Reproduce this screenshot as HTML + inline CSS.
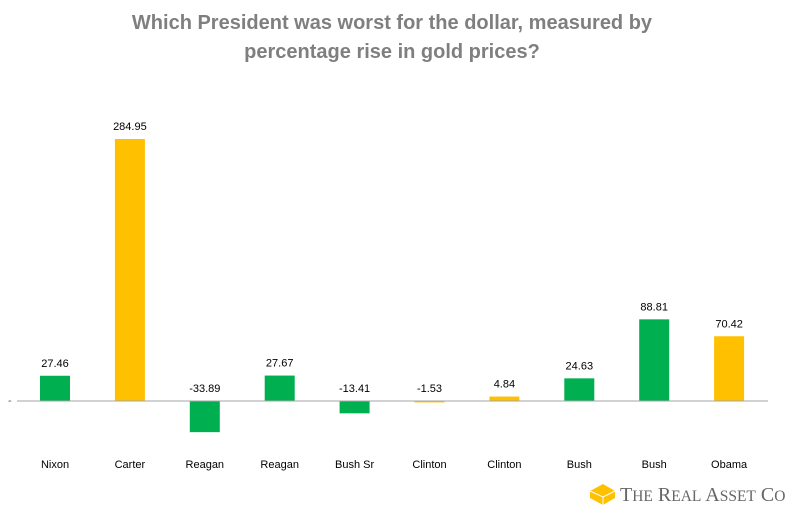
<!DOCTYPE html>
<html><head><meta charset="utf-8"><style>
body{margin:0;background:#fff;width:800px;height:522px;overflow:hidden;font-family:"Liberation Sans",sans-serif}
</style></head><body>
<svg width="800" height="522">
<text x="392" y="29" text-anchor="middle" font-size="20" font-weight="bold" fill="#7f7f7f">Which President was worst for the dollar, measured by</text>
<text x="392" y="58" text-anchor="middle" font-size="20" font-weight="bold" fill="#7f7f7f">percentage rise in gold prices?</text>
<text x="8" y="404" font-size="11" fill="#595959">-</text>
<g id="bars"></g>
<line x1="17" y1="401" x2="768" y2="401" stroke="#a6a6a6" stroke-width="1"/>
<g>
<polygon points="590,491 603,484 615,491 615,498 603,505 590,498" fill="#ffc000"/>
<polyline points="590,491 603,497 615,491" fill="none" stroke="#fff" stroke-width="1"/>
<line x1="603" y1="497" x2="603" y2="505" stroke="#fff" stroke-width="1"/>
<text x="620" y="501" font-family="Liberation Serif,serif" font-size="20" fill="#666">T<tspan font-size="15.5">HE</tspan> R<tspan font-size="15.5">EAL</tspan> A<tspan font-size="15.5">SSET</tspan> C<tspan font-size="15.5">O</tspan></text>
</g>
</svg>
<script>
const categories=["Nixon","Carter","Reagan","Reagan","Bush Sr","Clinton","Clinton","Bush","Bush","Obama"];
const values=[27.46,284.95,-33.89,27.67,-13.41,-1.53,4.84,24.63,88.81,70.42];
const labels=["27.46","284.95","-33.89","27.67","-13.41","-1.53","4.84","24.63","88.81","70.42"];
const parties=["R","D","R","R","R","D","D","R","R","D"];
const g=document.getElementById('bars');
const NS="http://www.w3.org/2000/svg";
const y0=401,scale=262/284.95;
const yPos=v=>y0-v*scale;
const xCenter=i=>55+i*74.9;
categories.forEach((c,i)=>{
  const v=values[i];
  const r=document.createElementNS(NS,'rect');
  
  
  r.setAttribute('x',xCenter(i)-15);r.setAttribute('width',30);
  r.setAttribute('y',Math.min(yPos(v),y0));r.setAttribute('height',Math.abs(yPos(v)-y0));
  r.setAttribute('fill',parties[i]==="D"?"#ffc000":"#00b050");
  g.appendChild(r);
  const t=document.createElementNS(NS,'text');
  
  
  t.setAttribute('x',xCenter(i));t.setAttribute('y',(v>=0?yPos(v):y0)-9);
  t.setAttribute('text-anchor','middle');t.setAttribute('font-size','11');t.setAttribute('fill','#000');
  t.textContent=labels[i];g.appendChild(t);
  const l=document.createElementNS(NS,'text');
  
  
  l.setAttribute('x',xCenter(i));l.setAttribute('y',468);
  l.setAttribute('text-anchor','middle');l.setAttribute('font-size','11');l.setAttribute('fill','#000');
  l.textContent=c;g.appendChild(l);
});
</script>
</body></html>
